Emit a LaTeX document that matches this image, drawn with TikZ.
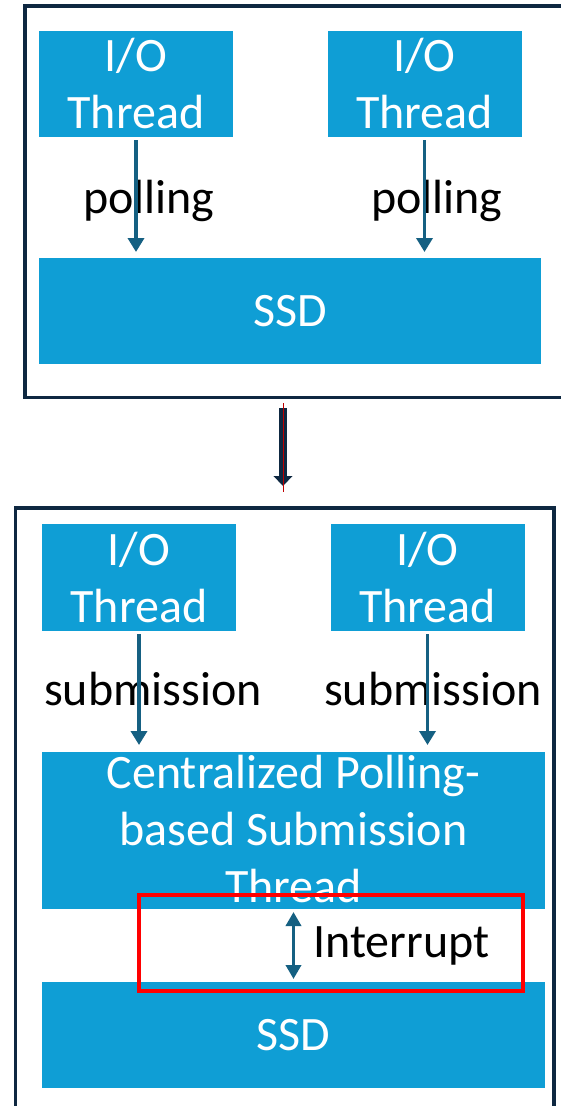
\documentclass[tikz,border=0pt]{standalone}
\usepackage{fontspec}
\setmainfont{Carlito}
\usetikzlibrary{arrows.meta}
\definecolor{boxblue}{HTML}{0F9ED5}
\definecolor{arrowblue}{HTML}{156082}
\definecolor{framenavy}{HTML}{0E2841}
\begin{document}
\begin{tikzpicture}[x=1pt,y=-1pt,
  box/.style={fill=boxblue, draw=none, inner sep=0pt, outer sep=0pt,
    text=white, align=center, font=\fontsize{48pt}{57pt}\selectfont},
  flowtext/.style={inner sep=0pt, anchor=base, text=black,
    font=\fontsize{48pt}{57pt}\selectfont},
  flow/.style={draw=arrowblue, line width=3.5pt,
    -{Triangle[width=16pt,length=14pt]}},
  frame/.style={draw=framenavy, line width=3.5pt},
  highlight/.style={draw=red, line width=3.5pt}]
\clip (0,0) rectangle (561,1106);
\fill[white] (0,0) rectangle (561,1106);

% ---- upper panel: per-thread polling ----
\draw[frame] (25,6) rectangle (575,397.5);
\node[box, minimum width=194pt, minimum height=106pt] (io1) at (136,84) {I/O\\Thread};
\node[box, minimum width=194pt, minimum height=106pt] (io2) at (424.5,84) {I/O\\Thread};
\node[box, minimum width=502pt, minimum height=106pt] (ssd1) at (290,311) {SSD};
\node[flowtext] (poll1) at (149,213) {polling};
\node[flowtext] (poll2) at (437,213) {polling};
\draw[flow, shorten <=3pt, shorten >=6pt] (io1.south) -- (io1.south |- ssd1.north);
\draw[flow, shorten <=3pt, shorten >=6pt] (io2.south) -- (io2.south |- ssd1.north);

% ---- transition arrow ----
\coordinate (bigstart) at (283,408);
\coordinate (bigend) at (283,486);
\draw[framenavy, line width=8.5pt, -{Triangle[width=18.5pt,length=10pt]}] (bigstart) -- (bigend);
\draw[red!75!black, line width=0.8pt] ([yshift=5pt]bigstart) -- ([yshift=-6pt]bigend);

% ---- lower panel: centralized submission ----
\draw[frame] (15.5,508) rectangle (554,1130);
\node[box, minimum width=194pt, minimum height=107pt] (io3) at (139,577.5) {I/O\\Thread};
\node[box, minimum width=194pt, minimum height=107pt] (io4) at (427.5,577.5) {I/O\\Thread};
\node[box, minimum width=503pt, minimum height=157pt] (cpt) at (293.5,830.5) {};
\node[box, fill=none] (cpttext) at (293.5,829) {Centralized Polling-\\based Submission\\Thread};
\node[box, minimum width=503pt, minimum height=106pt] (ssd2) at (293.5,1035) {SSD};
\node[flowtext] (sub1) at (153,705) {submission};
\node[flowtext] (sub2) at (433,705) {submission};
\node[flowtext, anchor=base west] (intr) at (313,957) {Interrupt};
\draw[flow, shorten <=3pt, shorten >=7pt] (io3.south) -- (io3.south |- cpt.north);
\draw[flow, shorten <=3pt, shorten >=7pt] (io4.south) -- (io4.south |- cpt.north);
\draw[draw=arrowblue, line width=3.5pt, {Triangle[width=15pt,length=14pt]}-{Triangle[width=15pt,length=14pt]},
  shorten <=3pt, shorten >=3pt] (cpt.south) -- (ssd2.north);

% ---- highlighted region ----
\draw[highlight] (139,895) rectangle (523,991);
\end{tikzpicture}
\end{document}
